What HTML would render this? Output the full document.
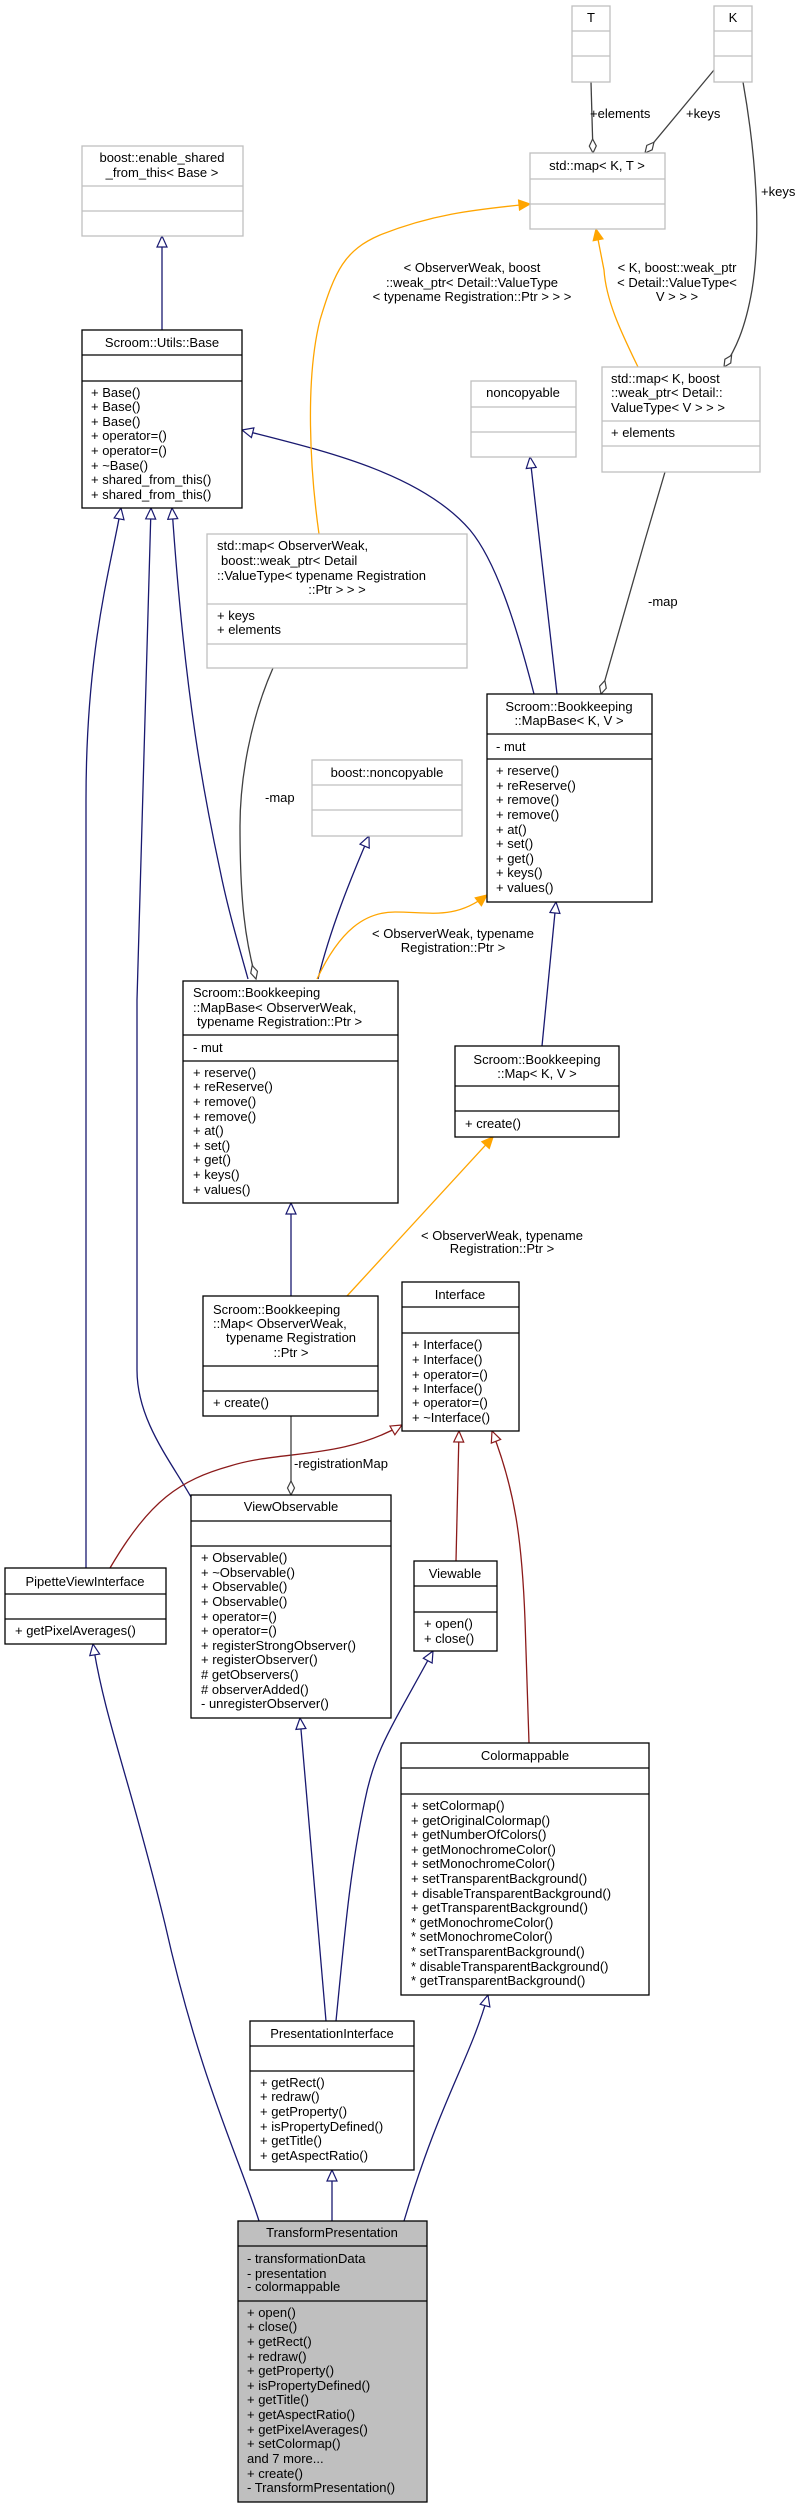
<!DOCTYPE html>
<html><head><meta charset="utf-8"><style>
html,body{margin:0;padding:0;background:#fff}
svg text{font-family:"Liberation Sans",sans-serif;font-size:13px;fill:#000}
</style></head><body>
<svg width="805" height="2508" viewBox="0 0 805 2508" xmlns="http://www.w3.org/2000/svg">
<defs>
<marker id="hn" markerUnits="userSpaceOnUse" markerWidth="14" markerHeight="12" refX="12" refY="6" orient="auto"><path d="M1,1 L12,6 L1,11 Z" fill="#fff" stroke="#191970" stroke-width="1.2"/></marker>
<marker id="hr" markerUnits="userSpaceOnUse" markerWidth="14" markerHeight="12" refX="12" refY="6" orient="auto"><path d="M1,1 L12,6 L1,11 Z" fill="#fff" stroke="#8b1a1a" stroke-width="1.2"/></marker>
<marker id="ho" markerUnits="userSpaceOnUse" markerWidth="14" markerHeight="12" refX="12" refY="6" orient="auto"><path d="M1,1 L12,6 L1,11 Z" fill="#ffa500" stroke="#ffa500" stroke-width="1.2"/></marker>
<marker id="dg" markerUnits="userSpaceOnUse" markerWidth="16" markerHeight="10" refX="15" refY="5" orient="auto"><path d="M1,5 L8,1.5 L15,5 L8,8.5 Z" fill="#fff" stroke="#404040" stroke-width="1.2"/></marker>
</defs>
<g fill="none" stroke-width="1.3">
<path d="M162,330 L162,236" stroke="#191970" marker-end="url(#hn)"/>
<path d="M86,1568 L86,800 C86,650 110,570 121,508" stroke="#191970" marker-end="url(#hn)"/>
<path d="M191,1497 C170,1460 137,1420 137,1370 L137,1000 L151,508" stroke="#191970" marker-end="url(#hn)"/>
<path d="M248,979 C240,950 228,910 220,870 C205,800 185,700 172,508" stroke="#191970" marker-end="url(#hn)"/>
<path d="M534,694 C515,620 495,560 470,530 C420,472 320,450 242,430" stroke="#191970" marker-end="url(#hn)"/>
<path d="M557,694 L530,457" stroke="#191970" marker-end="url(#hn)"/>
<path d="M318,979 C330,930 350,880 369,836" stroke="#191970" marker-end="url(#hn)"/>
<path d="M542,1046 L556,902" stroke="#191970" marker-end="url(#hn)"/>
<path d="M291,1296 L291,1203" stroke="#191970" marker-end="url(#hn)"/>
<path d="M259,2221 C240,2160 200,2080 165,1924 C130,1780 105,1720 93,1644" stroke="#191970" marker-end="url(#hn)"/>
<path d="M326,2021 L300,1718" stroke="#191970" marker-end="url(#hn)"/>
<path d="M336,2021 C345,1930 350,1870 365,1800 C375,1750 390,1730 433,1651" stroke="#191970" marker-end="url(#hn)"/>
<path d="M332,2221 L332,2170" stroke="#191970" marker-end="url(#hn)"/>
<path d="M404,2221 C440,2100 470,2060 488,1995" stroke="#191970" marker-end="url(#hn)"/>
<path d="M110,1568 C150,1500 180,1480 230,1466 C280,1450 340,1460 402,1425" stroke="#8b1a1a" marker-end="url(#hr)"/>
<path d="M456,1561 L459,1431" stroke="#8b1a1a" marker-end="url(#hr)"/>
<path d="M529,1743 L525,1620 C522,1540 515,1490 492,1431" stroke="#8b1a1a" marker-end="url(#hr)"/>
<path d="M638,367 C620,330 606,300 604,270 L596,229" stroke="#ffa500" marker-end="url(#ho)"/>
<path d="M319,534 C310,470 305,380 320,320 C335,270 345,250 380,235 C430,215 470,210 530,204" stroke="#ffa500" marker-end="url(#ho)"/>
<path d="M317,979 C340,930 365,912 395,912 C430,912 455,920 487,895" stroke="#ffa500" marker-end="url(#ho)"/>
<path d="M347,1296 L493,1137" stroke="#ffa500" marker-end="url(#ho)"/>
<path d="M591,82 L593,153" stroke="#404040" marker-end="url(#dg)"/>
<path d="M714,70 L645,153" stroke="#404040" marker-end="url(#dg)"/>
<path d="M743,82 C755,150 762,230 752,290 C745,330 735,350 724,367" stroke="#404040" marker-end="url(#dg)"/>
<path d="M665,472 L645,540 L601,694" stroke="#404040" marker-end="url(#dg)"/>
<path d="M273,668 C250,720 240,780 240,826 C240,900 245,940 256,979" stroke="#404040" marker-end="url(#dg)"/>
<path d="M291,1416 L291,1495" stroke="#404040" marker-end="url(#dg)"/>
</g>
<g>
<text x="590" y="118">+elements</text>
<text x="686" y="118">+keys</text>
<text x="761" y="196">+keys</text>
<text x="472" y="272" text-anchor="middle">&lt; ObserverWeak, boost</text>
<text x="472" y="287" text-anchor="middle">::weak_ptr&lt; Detail::ValueType</text>
<text x="472" y="301" text-anchor="middle">&lt; typename Registration::Ptr &gt; &gt; &gt;</text>
<text x="677" y="272" text-anchor="middle">&lt; K, boost::weak_ptr</text>
<text x="677" y="287" text-anchor="middle">&lt; Detail::ValueType&lt;</text>
<text x="677" y="301" text-anchor="middle">V &gt; &gt; &gt;</text>
<text x="648" y="606">-map</text>
<text x="265" y="802">-map</text>
<text x="453" y="938" text-anchor="middle">&lt; ObserverWeak, typename</text>
<text x="453" y="952" text-anchor="middle">Registration::Ptr &gt;</text>
<text x="502" y="1240" text-anchor="middle">&lt; ObserverWeak, typename</text>
<text x="502" y="1253" text-anchor="middle">Registration::Ptr &gt;</text>
<text x="294" y="1468">-registrationMap</text>
</g>
<g fill="#fff" stroke="#bfbfbf" stroke-width="1.3">
<rect x="572" y="6" width="38" height="76"/><line x1="572" y1="31" x2="610" y2="31"/><line x1="572" y1="56" x2="610" y2="56"/>
<rect x="714" y="6" width="38" height="76"/><line x1="714" y1="31" x2="752" y2="31"/><line x1="714" y1="56" x2="752" y2="56"/>
<rect x="82" y="146" width="161" height="90"/><line x1="82" y1="186" x2="243" y2="186"/><line x1="82" y1="211" x2="243" y2="211"/>
<rect x="530" y="153" width="135" height="76"/><line x1="530" y1="179" x2="665" y2="179"/><line x1="530" y1="204" x2="665" y2="204"/>
<rect x="471" y="381" width="105" height="76"/><line x1="471" y1="407" x2="576" y2="407"/><line x1="471" y1="432" x2="576" y2="432"/>
<rect x="602" y="367" width="158" height="105"/><line x1="602" y1="421" x2="760" y2="421"/><line x1="602" y1="446" x2="760" y2="446"/>
<rect x="207" y="534" width="260" height="134"/><line x1="207" y1="604" x2="467" y2="604"/><line x1="207" y1="644" x2="467" y2="644"/>
<rect x="312" y="760" width="150" height="76"/><line x1="312" y1="785" x2="462" y2="785"/><line x1="312" y1="810" x2="462" y2="810"/>
</g>
<g stroke="#000" stroke-width="1.3">
<rect x="82" y="330" width="160" height="178" fill="#fff"/><line x1="82" y1="355" x2="242" y2="355"/><line x1="82" y1="381" x2="242" y2="381"/>
<rect x="487" y="694" width="165" height="208" fill="#fff"/><line x1="487" y1="734" x2="652" y2="734"/><line x1="487" y1="759" x2="652" y2="759"/>
<rect x="183" y="981" width="215" height="222" fill="#fff"/><line x1="183" y1="1035" x2="398" y2="1035"/><line x1="183" y1="1061" x2="398" y2="1061"/>
<rect x="455" y="1046" width="164" height="91" fill="#fff"/><line x1="455" y1="1086" x2="619" y2="1086"/><line x1="455" y1="1111" x2="619" y2="1111"/>
<rect x="203" y="1296" width="175" height="120" fill="#fff"/><line x1="203" y1="1366" x2="378" y2="1366"/><line x1="203" y1="1391" x2="378" y2="1391"/>
<rect x="402" y="1282" width="117" height="149" fill="#fff"/><line x1="402" y1="1307" x2="519" y2="1307"/><line x1="402" y1="1333" x2="519" y2="1333"/>
<rect x="191" y="1495" width="200" height="223" fill="#fff"/><line x1="191" y1="1521" x2="391" y2="1521"/><line x1="191" y1="1546" x2="391" y2="1546"/>
<rect x="5" y="1568" width="161" height="76" fill="#fff"/><line x1="5" y1="1594" x2="166" y2="1594"/><line x1="5" y1="1619" x2="166" y2="1619"/>
<rect x="414" y="1561" width="83" height="90" fill="#fff"/><line x1="414" y1="1586" x2="497" y2="1586"/><line x1="414" y1="1612" x2="497" y2="1612"/>
<rect x="401" y="1743" width="248" height="252" fill="#fff"/><line x1="401" y1="1768" x2="649" y2="1768"/><line x1="401" y1="1794" x2="649" y2="1794"/>
<rect x="250" y="2021" width="164" height="149" fill="#fff"/><line x1="250" y1="2046" x2="414" y2="2046"/><line x1="250" y1="2071" x2="414" y2="2071"/>
<rect x="238" y="2221" width="189" height="281" fill="#bfbfbf"/><line x1="238" y1="2246" x2="427" y2="2246"/><line x1="238" y1="2301" x2="427" y2="2301"/>
</g>
<g>
<text x="591" y="22" text-anchor="middle">T</text>
<text x="733" y="22" text-anchor="middle">K</text>
<text x="162" y="162" text-anchor="middle">boost::enable_shared</text>
<text x="162" y="177" text-anchor="middle">_from_this&lt; Base &gt;</text>
<text x="597" y="170" text-anchor="middle">std::map&lt; K, T &gt;</text>
<text x="523" y="397" text-anchor="middle">noncopyable</text>
<text x="611" y="383">std::map&lt; K, boost</text>
<text x="611" y="397">::weak_ptr&lt; Detail::</text>
<text x="611" y="412">ValueType&lt; V &gt; &gt; &gt;</text>
<text x="611" y="437">+ elements</text>
<text x="217" y="550">std::map&lt; ObserverWeak,</text>
<text x="221" y="565">boost::weak_ptr&lt; Detail</text>
<text x="217" y="580">::ValueType&lt; typename Registration</text>
<text x="337" y="594" text-anchor="middle">::Ptr &gt; &gt; &gt;</text>
<text x="217" y="620">+ keys</text>
<text x="217" y="634">+ elements</text>
<text x="387" y="777" text-anchor="middle">boost::noncopyable</text>

<text x="162" y="347" text-anchor="middle">Scroom::Utils::Base</text>
<text x="91" y="397">+ Base()</text><text x="91" y="411">+ Base()</text><text x="91" y="426">+ Base()</text><text x="91" y="440">+ operator=()</text><text x="91" y="455">+ operator=()</text><text x="91" y="470">+ ~Base()</text><text x="91" y="484">+ shared_from_this()</text><text x="91" y="499">+ shared_from_this()</text>

<text x="569" y="711" text-anchor="middle">Scroom::Bookkeeping</text>
<text x="569" y="725" text-anchor="middle">::MapBase&lt; K, V &gt;</text>
<text x="496" y="751">- mut</text>
<text x="496" y="775">+ reserve()</text><text x="496" y="790">+ reReserve()</text><text x="496" y="804">+ remove()</text><text x="496" y="819">+ remove()</text><text x="496" y="834">+ at()</text><text x="496" y="848">+ set()</text><text x="496" y="863">+ get()</text><text x="496" y="877">+ keys()</text><text x="496" y="892">+ values()</text>

<text x="193" y="997">Scroom::Bookkeeping</text>
<text x="193" y="1012">::MapBase&lt; ObserverWeak,</text>
<text x="197" y="1026">typename Registration::Ptr &gt;</text>
<text x="193" y="1052">- mut</text>
<text x="193" y="1077">+ reserve()</text><text x="193" y="1091">+ reReserve()</text><text x="193" y="1106">+ remove()</text><text x="193" y="1121">+ remove()</text><text x="193" y="1135">+ at()</text><text x="193" y="1150">+ set()</text><text x="193" y="1164">+ get()</text><text x="193" y="1179">+ keys()</text><text x="193" y="1194">+ values()</text>

<text x="537" y="1064" text-anchor="middle">Scroom::Bookkeeping</text>
<text x="537" y="1078" text-anchor="middle">::Map&lt; K, V &gt;</text>
<text x="465" y="1128">+ create()</text>

<text x="213" y="1314">Scroom::Bookkeeping</text>
<text x="213" y="1328">::Map&lt; ObserverWeak,</text>
<text x="291" y="1342" text-anchor="middle">typename Registration</text>
<text x="291" y="1357" text-anchor="middle">::Ptr &gt;</text>
<text x="213" y="1407">+ create()</text>

<text x="460" y="1299" text-anchor="middle">Interface</text>
<text x="412" y="1349">+ Interface()</text><text x="412" y="1364">+ Interface()</text><text x="412" y="1379">+ operator=()</text><text x="412" y="1393">+ Interface()</text><text x="412" y="1407">+ operator=()</text><text x="412" y="1422">+ ~Interface()</text>

<text x="291" y="1511" text-anchor="middle">ViewObservable</text>
<text x="201" y="1562">+ Observable()</text><text x="201" y="1577">+ ~Observable()</text><text x="201" y="1591">+ Observable()</text><text x="201" y="1606">+ Observable()</text><text x="201" y="1621">+ operator=()</text><text x="201" y="1635">+ operator=()</text><text x="201" y="1650">+ registerStrongObserver()</text><text x="201" y="1664">+ registerObserver()</text><text x="201" y="1679">#  getObservers()</text><text x="201" y="1694">#  observerAdded()</text><text x="201" y="1708">- unregisterObserver()</text>

<text x="85" y="1586" text-anchor="middle">PipetteViewInterface</text>
<text x="15" y="1635">+ getPixelAverages()</text>

<text x="455" y="1578" text-anchor="middle">Viewable</text>
<text x="424" y="1628">+ open()</text><text x="424" y="1643">+ close()</text>

<text x="525" y="1760" text-anchor="middle">Colormappable</text>
<text x="411" y="1810">+ setColormap()</text><text x="411" y="1825">+ getOriginalColormap()</text><text x="411" y="1839">+ getNumberOfColors()</text><text x="411" y="1854">+ getMonochromeColor()</text><text x="411" y="1868">+ setMonochromeColor()</text><text x="411" y="1883">+ setTransparentBackground()</text><text x="411" y="1898">+ disableTransparentBackground()</text><text x="411" y="1912">+ getTransparentBackground()</text><text x="411" y="1927">* getMonochromeColor()</text><text x="411" y="1941">* setMonochromeColor()</text><text x="411" y="1956">* setTransparentBackground()</text><text x="411" y="1971">* disableTransparentBackground()</text><text x="411" y="1985">* getTransparentBackground()</text>

<text x="332" y="2038" text-anchor="middle">PresentationInterface</text>
<text x="260" y="2087">+ getRect()</text><text x="260" y="2101">+ redraw()</text><text x="260" y="2116">+ getProperty()</text><text x="260" y="2131">+ isPropertyDefined()</text><text x="260" y="2145">+ getTitle()</text><text x="260" y="2160">+ getAspectRatio()</text>

<text x="332" y="2237" text-anchor="middle">TransformPresentation</text>
<text x="247" y="2263">- transformationData</text><text x="247" y="2278">- presentation</text><text x="247" y="2291">- colormappable</text>
<text x="247" y="2317">+ open()</text><text x="247" y="2331">+ close()</text><text x="247" y="2346">+ getRect()</text><text x="247" y="2361">+ redraw()</text><text x="247" y="2375">+ getProperty()</text><text x="247" y="2390">+ isPropertyDefined()</text><text x="247" y="2404">+ getTitle()</text><text x="247" y="2419">+ getAspectRatio()</text><text x="247" y="2434">+ getPixelAverages()</text><text x="247" y="2448">+ setColormap()</text><text x="247" y="2463">and 7 more...</text><text x="247" y="2478">+ create()</text><text x="247" y="2492">- TransformPresentation()</text>
</g>
</svg>
</body></html>
